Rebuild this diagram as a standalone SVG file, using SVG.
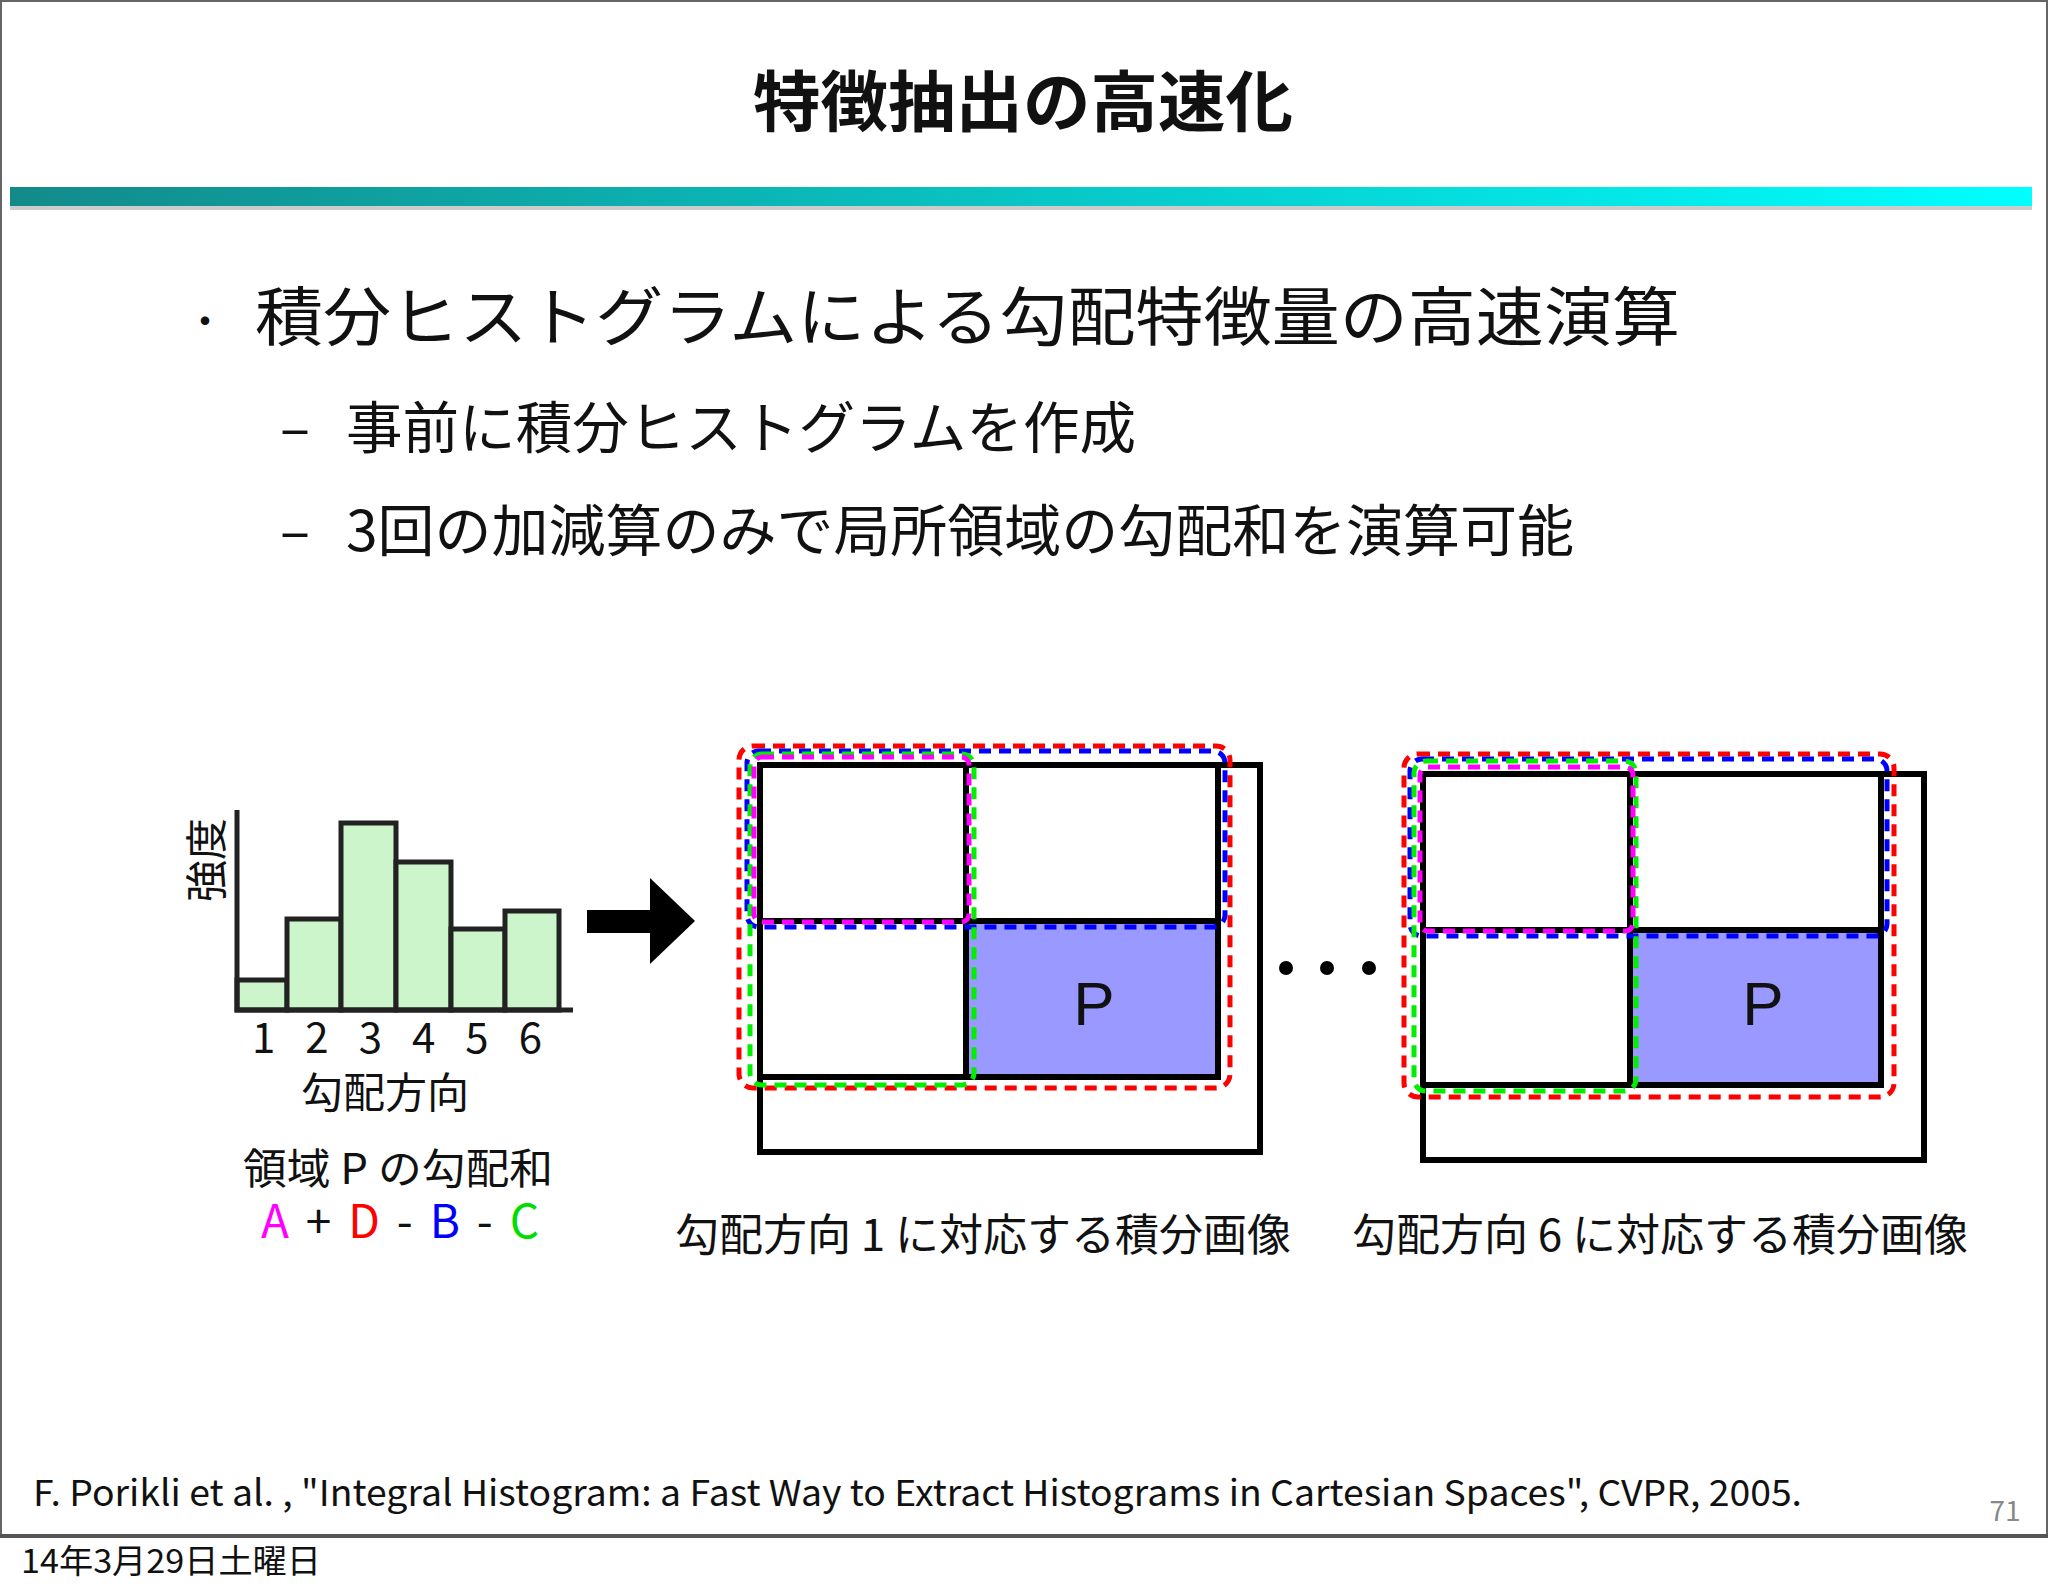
<svg xmlns="http://www.w3.org/2000/svg" width="2048" height="1593" viewBox="0 0 2048 1593">
<defs>
<linearGradient id="bar" x1="0" x2="1" y1="0" y2="0"><stop offset="0" stop-color="#138a8a"/><stop offset="1" stop-color="#00ffff"/></linearGradient>
<style>
text{font-family:"Noto Sans CJK JP","Liberation Sans",sans-serif;fill:#111}
.hb{fill:#ccf5cc;stroke:#222;stroke-width:5}
.box{fill:none;stroke:#000;stroke-width:6}
.d{fill:none;stroke-width:5;stroke-dasharray:12 8}
</style>
</defs>
<rect x="0" y="0" width="2048" height="1593" fill="#fff"/>
<rect x="1" y="1" width="2046" height="1535" fill="none" stroke="#666" stroke-width="2"/>
<line x1="0" y1="1536" x2="2048" y2="1536" stroke="#555" stroke-width="4"/>
<text x="1023" y="126" font-size="66" font-weight="bold" text-anchor="middle" textLength="540" lengthAdjust="spacingAndGlyphs">特徴抽出の高速化</text>
<rect x="10" y="187" width="2022" height="19" fill="url(#bar)"/>
<rect x="10" y="206" width="2022" height="4" fill="#ccc"/>
<text x="185" y="336" font-size="40">・</text>
<text x="255" y="340" font-size="64" textLength="1425" lengthAdjust="spacingAndGlyphs">積分ヒストグラムによる勾配特徴量の高速演算</text>
<text x="280" y="448" font-size="56">–</text>
<text x="346" y="448" font-size="56" textLength="790" lengthAdjust="spacingAndGlyphs">事前に積分ヒストグラムを作成</text>
<text x="280" y="551" font-size="56">–</text>
<text x="346" y="551" font-size="56" textLength="1228" lengthAdjust="spacingAndGlyphs">3回の加減算のみで局所領域の勾配和を演算可能</text>
<g id="histogram">
<rect class="hb" x="237" y="980" width="50" height="30"/>
<rect class="hb" x="287" y="919" width="54" height="91"/>
<rect class="hb" x="341" y="823" width="55" height="187"/>
<rect class="hb" x="396" y="862" width="55" height="148"/>
<rect class="hb" x="451" y="929" width="54" height="81"/>
<rect class="hb" x="505" y="911" width="54" height="99"/>
<polyline points="237,810 237,1010 573,1010" fill="none" stroke="#222" stroke-width="5"/>
<text x="252" y="1053" font-size="42" textLength="290" lengthAdjust="spacing">1 2 3 4 5 6</text>
<text x="385" y="1108" font-size="42" text-anchor="middle">勾配方向</text>
<text transform="translate(222,860) rotate(-90)" font-size="42" text-anchor="middle">強度</text>
<text x="398" y="1184" font-size="42" text-anchor="middle" textLength="310" lengthAdjust="spacingAndGlyphs">領域 P の勾配和</text>
<text x="261" y="1238" font-size="46" textLength="278" lengthAdjust="spacing"><tspan fill="#ff00ff">A</tspan> + <tspan fill="#ff0000">D</tspan> - <tspan fill="#0000ff">B</tspan> - <tspan fill="#00dd00">C</tspan></text>
</g>
<g id="arrow"><rect x="587" y="910" width="65" height="23" fill="#000"/><polygon points="650,878 695,921 650,964" fill="#000"/></g>
<g id="img1">
<rect class="box" x="760" y="765" width="500" height="387"/>
<rect x="966" y="921" width="252" height="156" fill="#9999ff"/>
<rect class="box" x="760" y="765" width="458" height="312"/>
<line class="box" x1="760" y1="921" x2="1218" y2="921"/>
<line class="box" x1="966" y1="765" x2="966" y2="1077"/>
<text x="1094" y="1025" font-size="62" text-anchor="middle" style="font-family:'Liberation Sans',sans-serif">P</text>
<rect class="d" x="739" y="746" width="491" height="342" rx="14" stroke="#ff0000"/>
<rect class="d" x="747" y="751" width="478" height="176" rx="12" stroke="#0000ff"/>
<rect class="d" x="750" y="754" width="224" height="331" rx="12" stroke="#00ee00"/>
<rect class="d" x="754" y="757" width="215" height="165" rx="8" stroke="#ff00ff"/>
<text x="983" y="1251" font-size="44" text-anchor="middle">勾配方向 1 に対応する積分画像</text>
</g>
<g id="dots" fill="#000"><circle cx="1286" cy="968" r="7"/><circle cx="1327" cy="968" r="7"/><circle cx="1369" cy="968" r="7"/></g>
<g id="img6">
<rect class="box" x="1423" y="774" width="501" height="386"/>
<rect x="1630" y="930" width="251" height="155" fill="#9999ff"/>
<rect class="box" x="1423" y="774" width="458" height="311"/>
<line class="box" x1="1423" y1="930" x2="1881" y2="930"/>
<line class="box" x1="1630" y1="774" x2="1630" y2="1085"/>
<text x="1763" y="1025" font-size="62" text-anchor="middle" style="font-family:'Liberation Sans',sans-serif">P</text>
<rect class="d" x="1404" y="754" width="490" height="343" rx="14" stroke="#ff0000"/>
<rect class="d" x="1410" y="759" width="477" height="177" rx="12" stroke="#0000ff"/>
<rect class="d" x="1414" y="761" width="222" height="330" rx="12" stroke="#00ee00"/>
<rect class="d" x="1420" y="767" width="213" height="164" rx="8" stroke="#ff00ff"/>
<text x="1660" y="1251" font-size="44" text-anchor="middle">勾配方向 6 に対応する積分画像</text>
</g>
<text x="33" y="1506" font-size="36" textLength="1769" lengthAdjust="spacingAndGlyphs">F. Porikli et al. , "Integral Histogram: a Fast Way to Extract Histograms in Cartesian Spaces", CVPR, 2005.</text>
<text x="2005" y="1521" font-size="28" text-anchor="middle" style="fill:#888">71</text>
<text x="21" y="1573" font-size="33" textLength="300" lengthAdjust="spacingAndGlyphs">14年3月29日土曜日</text>
</svg>
